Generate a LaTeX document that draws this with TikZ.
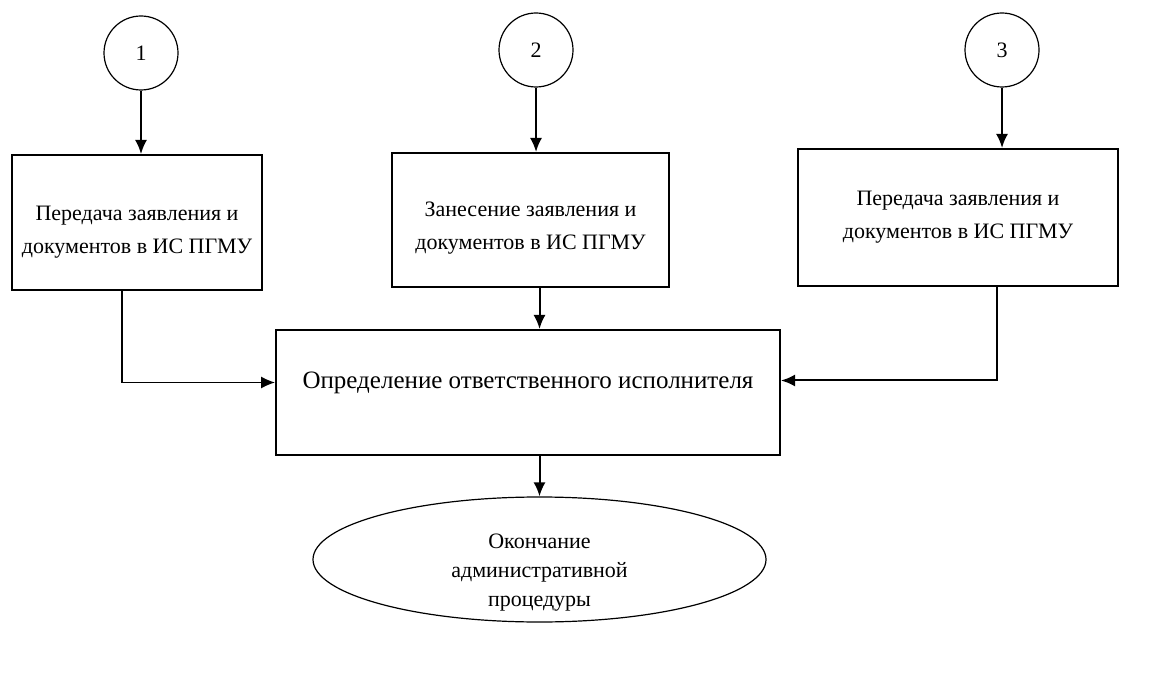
\documentclass[tikz,border=0pt]{standalone}
\usepackage{fontspec}
\setmainfont{Liberation Serif}
\usetikzlibrary{arrows.meta,shapes.geometric}

\begin{document}
\begin{tikzpicture}[x=0.5pt,y=-0.5pt,>={Latex[length=7pt,width=6pt]},
    box/.style={draw,line width=1pt,align=center,inner sep=0pt,font=\fontsize{11}{16.5}\selectfont},
    num/.style={draw,semithick,circle,minimum size=37pt,inner sep=0pt,font=\fontsize{11}{13}\selectfont},
    term/.style={draw,semithick,ellipse,inner sep=0pt},
    termtext/.style={align=center,yshift=-6.5pt,font=\fontsize{11}{14.5}\selectfont},
    link/.style={->,line width=1pt}]
    \useasboundingbox (0,0) rectangle (1149,694);
    \node[num] (N1) at (141,53)  {1};
    \node[num] (N2) at (536,50)  {2};
    \node[num] (N3) at (1002,50) {3};
    \node[box,minimum width=125pt,minimum height=67.5pt] (B1) at (137,222.5)
      {\rule{0pt}{17pt}Передача заявления и\\документов в ИС ПГМУ};
    \node[box,minimum width=138.5pt,minimum height=67pt] (B2) at (530.5,220)
      {\rule{0pt}{15pt}Занесение заявления и\\документов в ИС ПГМУ};
    \node[box,minimum width=160pt,minimum height=68.5pt] (B3) at (958,217.5)
      {Передача заявления и\\документов в ИС ПГМУ};
    \node[box,minimum width=252pt,minimum height=62.5pt,text depth=12.5pt,
      font=\fontsize{12.5}{15}\selectfont] (M) at (528,392.5)
      {Определение ответственного исполнителя};
    \node[term,minimum width=226.5pt,minimum height=62.5pt,
      label={[termtext]center:Окончание\\административной\\процедуры}] (E) at (539.5,559.5) {};
    \draw[link] (N1) -- (N1 |- B1.north);
    \draw[link] (N2) -- (N2 |- B2.north);
    \draw[link] (N3) -- (N3 |- B3.north);
    \draw[link,semithick] ([xshift=-7.5pt]B1.south) |- ([yshift=5pt]M.west);
    \draw[link] ([xshift=19.5pt]B3.south) |- ([yshift=6pt]M.east);
    \draw[link] (B2.south -| E) -- (M.north -| E);
    \draw[link] (M.south -| E) -- (E);
\end{tikzpicture}
\end{document}
